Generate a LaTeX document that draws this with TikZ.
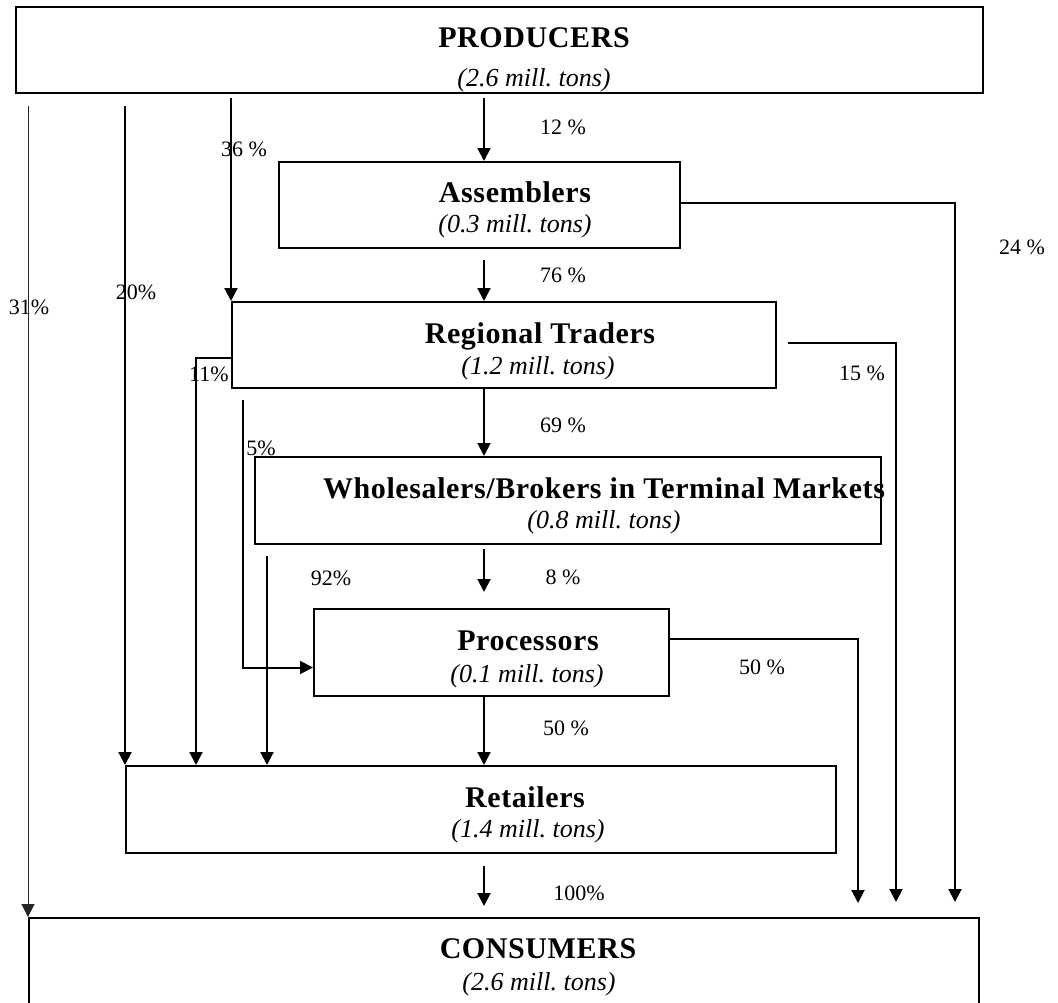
\documentclass[tikz,border=0pt]{standalone}
\usepackage{fontspec}
\setmainfont{Liberation Serif}
\newfontfamily\stagefont[LetterSpace=2.0]{Liberation Serif}
\usetikzlibrary{arrows.meta}
\frenchspacing

\tikzset{
	stage/.style={draw, line width=2pt, inner sep=0pt},
	stagename/.style={anchor=base, font=\stagefont\fontsize{30}{36}\selectfont\bfseries},
	stagesize/.style={anchor=base, font=\fontsize{26}{31}\selectfont\itshape},
	share/.style={font=\fontsize{22}{26}\selectfont},
	flow/.style={line width=2pt, -{Triangle[width=13pt,length=13pt]}},
}

\begin{document}
\begin{tikzpicture}[x=1pt, y=-1pt]
		\useasboundingbox (0,0) rectangle (1058,1002);
		%%%%% STAGES %%%%%
		\node[stage, minimum width=967pt, minimum height=86pt] (prod) at (499.5,50) {};
		\node[stage, minimum width=401pt, minimum height=86pt] (asm) at (479.5,205) {};
		\node[stage, minimum width=544pt, minimum height=86pt] (reg) at (504,345) {};
		\node[stage, minimum width=626pt, minimum height=87pt] (whole) at (568,500.5) {};
		\node[stage, minimum width=355pt, minimum height=87pt] (proc) at (491.5,652.5) {};
		\node[stage, minimum width=710pt, minimum height=87pt] (ret) at (481,809.5) {};
		\node[stage, minimum width=950pt, minimum height=92pt] (cons) at (504,964) {};
		
		\node[stagename] (prodname) at (534,47) {PRODUCERS};
		\node[stagesize] (prodsize) at (534,86) {(2.6 mill. tons)};
		\node[stagename] (asmname) at (515,202) {Assemblers};
		\node[stagesize] (asmsize) at (515,232) {(0.3 mill. tons)};
		\node[stagename] (regname) at (540,343) {Regional Traders};
		\node[stagesize] (regsize) at (538,374) {(1.2 mill. tons)};
		\node[stagename] (wholename) at (604,498) {Wholesalers/Brokers in Terminal Markets};
		\node[stagesize] (wholesize) at (604,528) {(0.8 mill. tons)};
		\node[stagename] (procname) at (528,650) {Processors};
		\node[stagesize] (procsize) at (527,682) {(0.1 mill. tons)};
		\node[stagename] (retname) at (525,807) {Retailers};
		\node[stagesize] (retsize) at (528,837) {(1.4 mill. tons)};
		\node[stagename] (consname) at (538,958) {CONSUMERS};
		\node[stagesize] (conssize) at (539,990) {(2.6 mill. tons)};
		
		%%%%% LANES %%%%%
		\coordinate (spine) at (484,0);
		\coordinate (lane5) at (243,0);
		\coordinate (lane11) at (196,0);
		\coordinate (lane92) at (267,0);
		\coordinate (lane50) at (858,0);
		\coordinate (lane15) at (896,0);
		\coordinate (lane24) at (955,0);
		
		%%%%% FLOWS %%%%%
		\draw[flow, line width=1pt, black!85, shorten <=12pt] (prod.south -| cons.north west) -- (cons.north west);
		\draw[flow, shorten <=12pt] (prod.south -| ret.north west) -- (ret.north west);
		\draw[flow, shorten <=4pt] (prod.south -| reg.north west) -- (reg.north west);
		\draw[flow, shorten <=4pt] (prod.south -| spine) -- (asm.north -| spine);
		
		\draw[flow, shorten <=11pt] (asm.south -| spine) -- (reg.north -| spine);
		\draw[flow, shorten >=15pt] ([yshift=2pt]asm.east) -| (cons.north -| lane24);
		
		\draw[flow] (reg.south -| spine) -- (whole.north -| spine);
		\draw[flow, shorten <=11pt, shorten >=15pt] ([yshift=2pt]reg.east) -| (cons.north -| lane15);
		\draw[flow] ([yshift=-13pt]reg.west) -| (ret.north -| lane11);
		\draw[flow, shorten <=11pt] (reg.south -| lane5) |- ([yshift=-15pt]proc.west);
		
		\draw[flow, shorten <=4pt, shorten >=16pt] (whole.south -| spine) -- (proc.north -| spine);
		\draw[flow, shorten <=11pt] (whole.south -| lane92) -- (ret.north -| lane92);
		
		\draw[flow] (proc.south -| spine) -- (ret.north -| spine);
		\draw[flow, shorten >=14pt] ([yshift=13.5pt]proc.east) -| (cons.north -| lane50);
		
		\draw[flow, shorten <=12pt, shorten >=11pt] (ret.south -| spine) -- (cons.north -| spine);
		
		%%%%% SHARES %%%%%
		\node[share] (s31) at (29,307) {31\%};
		\node[share] (s20) at (136,292) {20\%};
		\node[share] (s36) at (244,149) {36 \%};
		\node[share] (s12) at (563,127) {12 \%};
		\node[share] (s76) at (563,275) {76 \%};
		\node[share] (s24) at (1022,247) {24 \%};
		\node[share] (s69) at (563,425) {69 \%};
		\node[share] (s15) at (862,373) {15 \%};
		\node[share] (s11) at (209,374) {11\%};
		\node[share] (s5) at (261,448) {5\%};
		\node[share] (s8) at (563,577) {8 \%};
		\node[share] (s92) at (331,578) {92\%};
		\node[share] (s50a) at (762,667) {50 \%};
		\node[share] (s50b) at (566,728) {50 \%};
		\node[share] (s100) at (579,893) {100\%};
\end{tikzpicture}
\end{document}
